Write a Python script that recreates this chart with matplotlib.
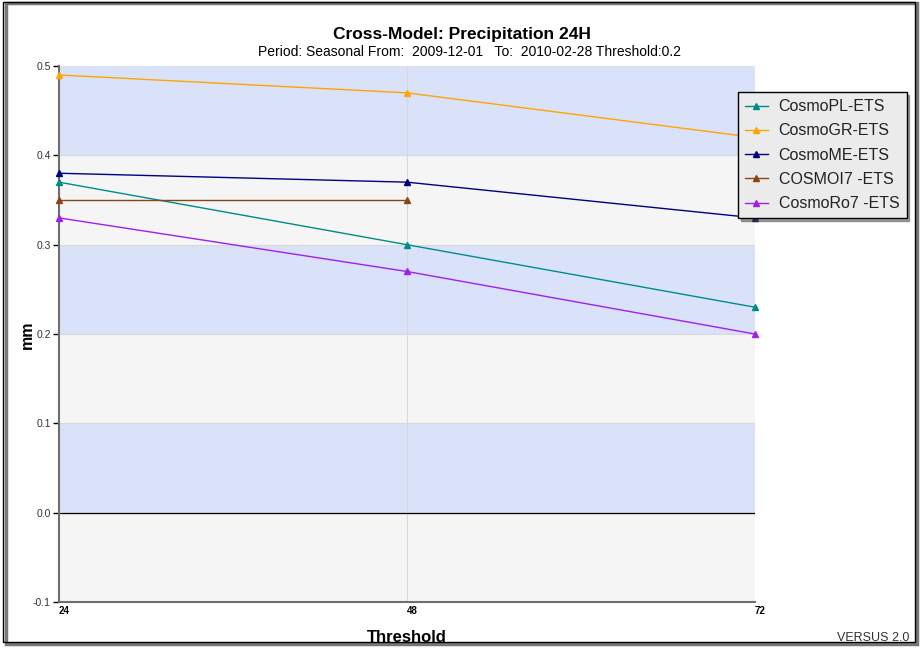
import matplotlib
matplotlib.use("Agg")
import matplotlib.pyplot as plt
from matplotlib.patches import Rectangle
import numpy as np

plt.rcParams['font.family'] = ['Liberation Sans', 'DejaVu Sans']

thresholds = [24, 48, 72]
series_names = ["CosmoPL-ETS", "CosmoGR-ETS", "CosmoME-ETS", "COSMOI7 -ETS", "CosmoRo7 -ETS"]
cosmo_pl = [0.37, 0.30, 0.23]
cosmo_gr = [0.49, 0.47, 0.42]
cosmo_me = [0.38, 0.37, 0.33]
cosmo_i7 = [0.35, 0.35]
cosmo_ro7 = [0.33, 0.27, 0.20]
colors = ["#008B8B", "#FFA500", "#000080", "#8B4513", "#A020F0"]
yticks = [-0.1, 0.0, 0.1, 0.2, 0.3, 0.4, 0.5]

fig = plt.figure(figsize=(9.23, 6.52), dpi=100)
ax = fig.add_axes([0.0639, 0.0767, 0.754, 0.822])

# background bands
for i, (lo, hi) in enumerate(zip(yticks[:-1], yticks[1:])):
    col = "#f5f5f5" if i % 2 == 0 else "#dae2fa"
    ax.axhspan(lo, hi, color=col, zorder=0, lw=0)
for y in yticks[1:-1]:
    ax.axhline(y, color="#d8d8d8", lw=0.8, zorder=0.5)
ax.axvline(48, color="#d8d8d8", lw=0.8, zorder=0.5)
ax.axhline(0.0, color="black", lw=0.9, zorder=1)

all_series = [cosmo_pl, cosmo_gr, cosmo_me, cosmo_i7, cosmo_ro7]
for name, vals, c in zip(series_names, all_series, colors):
    ax.plot(thresholds[:len(vals)], vals, color=c, lw=1.0, marker="^", ms=5,
            label=name, zorder=3, clip_on=False)

ax.set_xlim(24, 72)
ax.set_ylim(-0.1, 0.5)
ax.set_xticks(thresholds)
ax.set_xticklabels([str(t) for t in thresholds], fontsize=7, fontweight="bold")
ax.set_yticks(yticks)
ax.set_yticklabels([f"{y:.1f}" for y in yticks], fontsize=7.5, color="#333333")
ax.tick_params(axis="x", length=0, pad=3)
ax.tick_params(axis="y", length=4, width=1, color="black", pad=2)
for s in ["top", "right"]:
    ax.spines[s].set_visible(False)
for s in ["left", "bottom"]:
    ax.spines[s].set_color("#6e6e6e")
    ax.spines[s].set_linewidth(1.5)
for lbl in ax.get_xticklabels():
    lbl.set_horizontalalignment("left")

fig.text(407 / 923, 1 - 637 / 652, "Threshold", ha="center", va="center",
         fontsize=12, fontweight="bold")
fig.text(27 / 923, 1 - 335 / 652, "mm", ha="center", va="center", rotation=90,
         fontsize=11.5, fontweight="bold")

fig.text(462 / 923, 1 - 35 / 652, "Cross-Model: Precipitation 24H", ha="center", va="center",
         fontsize=12.5, fontweight="bold")
fig.text(470 / 923, 1 - 52 / 652, "Period: Seasonal From:  2009-12-01   To:  2010-02-28 Threshold:0.2",
         ha="center", va="center", fontsize=10)
fig.text(0.985, 0.013, "VERSUS 2.0", ha="right", va="bottom", fontsize=9, color="#333333")

# figure frame with shadow
fig.patches.append(Rectangle((0.006, 0.012), 0.988, 0.983, transform=fig.transFigure,
                             fill=False, ec="#777777", lw=2.5, zorder=0))
fig.patches.append(Rectangle((0.003, 0.015), 0.988, 0.982, transform=fig.transFigure,
                             fill=False, ec="black", lw=1.0, zorder=1))

leg = ax.legend(loc="upper left", bbox_to_anchor=(738 / 923, 1 - 92 / 652), bbox_transform=fig.transFigure,
                fontsize=11.5, frameon=True, fancybox=False, shadow=True,
                handlelength=1.4, handletextpad=0.7, borderpad=0.45, labelspacing=0.58,
                borderaxespad=0)
for t in leg.get_texts():
    t.set_color("#222222")
leg.get_frame().set_facecolor("#ebebeb")
leg.get_frame().set_edgecolor("black")
leg.get_frame().set_alpha(1)
leg.set_zorder(10)

fig.savefig("out.png", dpi=100)
